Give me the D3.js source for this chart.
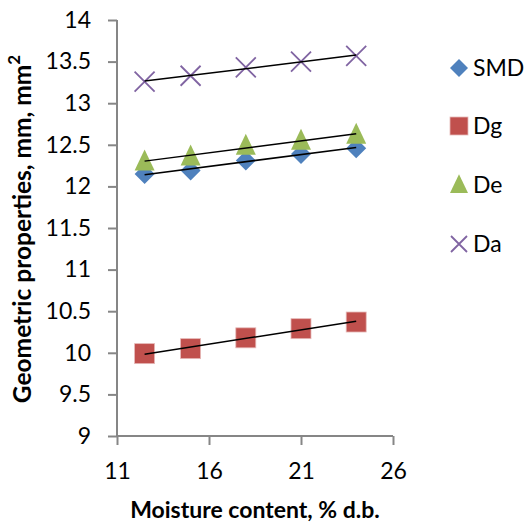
<!DOCTYPE html>
<html><head><meta charset="utf-8">
<script src="https://cdn.jsdelivr.net/npm/d3@7"></script>
<style>body{margin:0;background:#fff}svg{display:block}text{font-family:Lato,"Open Sans",sans-serif}</style>
</head><body>
<svg id="c" width="527" height="522"></svg>
<script>
const moisture = [12.5, 15, 18, 21, 24];
const smd = [12.15, 12.19, 12.31, 12.39, 12.46];
const dg = [9.99, 10.05, 10.18, 10.29, 10.37];
const de = [12.30, 12.36, 12.49, 12.55, 12.62];
const da = [13.26, 13.33, 13.43, 13.50, 13.57];
const seriesNames = ["SMD", "Dg", "De", "Da"];
const seriesColors = ["#4F81BD", "#C0504D", "#9BBB59", "#8064A2"];
const seriesShapes = ["diamond", "square", "triangle", "cross"];
const xTicks = [11, 16, 21, 26];
const yTicks = [9, 9.5, 10, 10.5, 11, 11.5, 12, 12.5, 13, 13.5, 14];

const svg = d3.select("#c");
const x = d3.scaleLinear().domain([11, 26]).range([117, 393]);
const y = d3.scaleLinear().domain([9, 14]).range([436, 20]);
const axisColor = "#868686";

const yAx = svg.append("g").attr("transform", "translate(117,0)")
  .call(d3.axisLeft(y).tickValues(yTicks).tickSize(9).tickPadding(17).tickFormat(d3.format("")));
const xAx = svg.append("g").attr("transform", "translate(0,436)")
  .call(d3.axisBottom(x).tickValues(xTicks).tickSize(9).tickPadding(18).tickFormat(d3.format("")));
[yAx, xAx].forEach(a => {
  a.select(".domain").attr("stroke", axisColor).attr("stroke-width", 2);
  a.selectAll(".tick line").attr("stroke", axisColor).attr("stroke-width", 2);
  a.selectAll(".tick text").attr("fill", "#000").style("font-size", "23px");
});
yAx.select(".domain").attr("d", "M0,20V436");
xAx.select(".domain").attr("d", "M117,0H393");

const data = [smd, dg, de, da];

function drawMarker(g, shape, color, cx, cy, s) {
  s = s || 10;
  if (shape === "diamond") {
    g.append("path").attr("d", `M${cx},${cy-s}L${cx+s},${cy}L${cx},${cy+s}L${cx-s},${cy}Z`).attr("fill", color);
  } else if (shape === "square") {
    g.append("rect").attr("x", cx-s).attr("y", cy-s).attr("width", 2*s).attr("height", 2*s)
      .attr("fill", color).attr("stroke", "#E6B9B8").attr("stroke-width", 0.8);
  } else if (shape === "triangle") {
    g.append("path").attr("d", `M${cx},${cy-1.2*s}L${cx+s},${cy+0.9*s}L${cx-s},${cy+0.9*s}Z`).attr("fill", color);
  } else {
    g.append("path").attr("d", `M${cx-s},${cy-s}L${cx+s},${cy+s}M${cx+s},${cy-s}L${cx-s},${cy+s}`)
      .attr("stroke", color).attr("stroke-width", 1.8).attr("fill", "none");
  }
}

const mg = svg.append("g");
data.forEach((vals, i) => {
  vals.forEach((v, j) => drawMarker(mg, seriesShapes[i], seriesColors[i], x(moisture[j]), y(v), 10));
});

// linear trendlines
const tg = svg.append("g");
data.forEach(vals => {
  const n = vals.length;
  const mx = d3.mean(moisture), my = d3.mean(vals);
  let sxy = 0, sxx = 0;
  for (let k = 0; k < n; k++) { sxy += (moisture[k]-mx)*(vals[k]-my); sxx += (moisture[k]-mx)**2; }
  const b = sxy/sxx, a = my - b*mx;
  const x0 = d3.min(moisture), x1 = d3.max(moisture);
  tg.append("line").attr("x1", x(x0)).attr("y1", y(a+b*x0)).attr("x2", x(x1)).attr("y2", y(a+b*x1))
    .attr("stroke", "#000").attr("stroke-width", 1.5);
});

// legend
const lg = svg.append("g");
const legY = [68, 126, 185, 244];
seriesNames.forEach((nm, i) => {
  const cy = legY[i];
  drawMarker(lg, seriesShapes[i], seriesColors[i], 459, cy, seriesShapes[i] === "cross" ? 8 : 9);
  lg.append("text").attr("x", 473).attr("y", cy).attr("dy", "0.36em").style("font-size", "23px").text(nm);
});

// titles
svg.append("text").attr("transform", "translate(31,229) rotate(-90)").attr("text-anchor", "middle")
  .style("font-size", "24.5px").style("font-weight", "bold")
  .html('Geometric properties, mm, mm<tspan dy="-11" style="font-size:17px">2</tspan>');
svg.append("text").attr("x", 255).attr("y", 518).attr("text-anchor", "middle")
  .style("font-size", "23px").style("font-weight", "bold").text("Moisture content, % d.b.");
</script>
</body></html>
